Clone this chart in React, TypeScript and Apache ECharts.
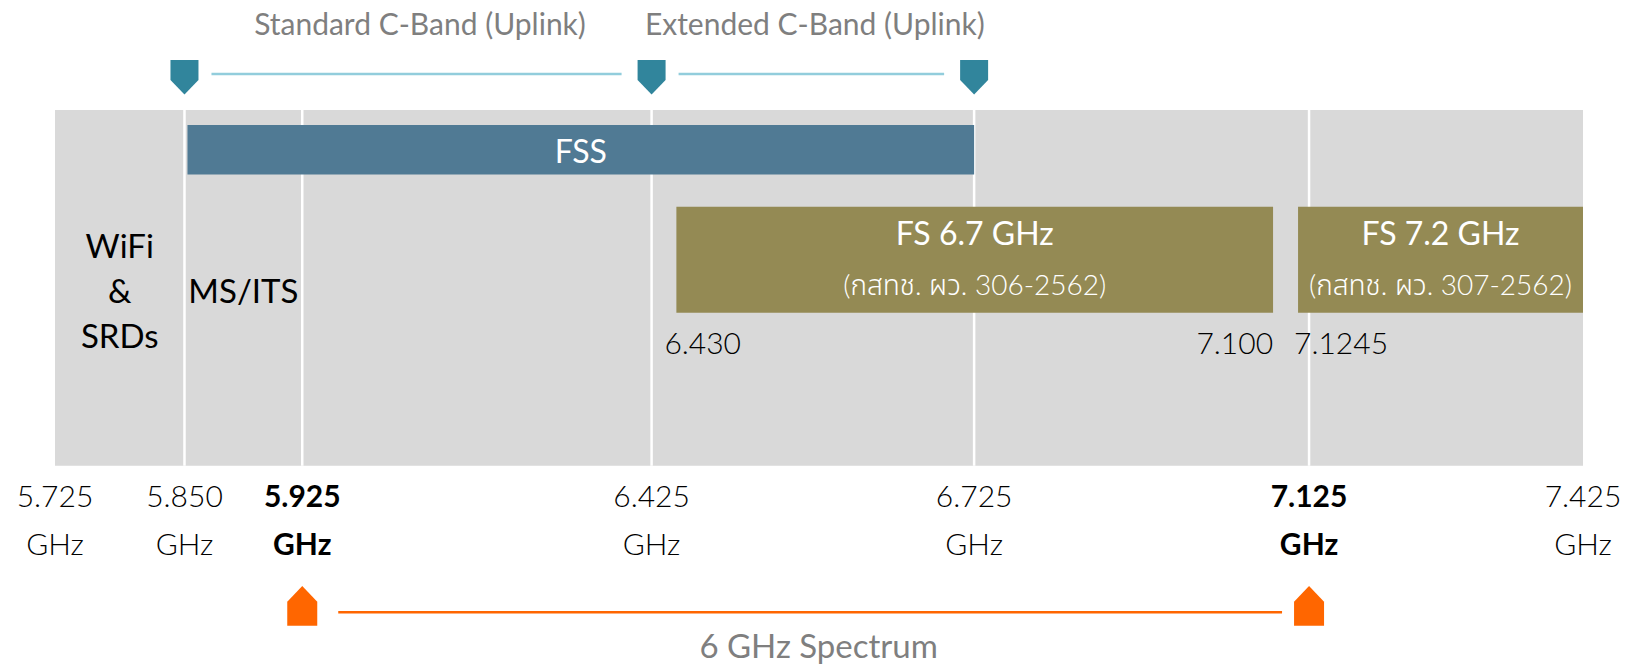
import React, { useEffect, useRef } from "react";
import * as echarts from "echarts";

// ---------------- data ----------------
const tickFreqs = [5.725, 5.85, 5.925, 6.425, 6.725, 7.125, 7.425];
const tickLabels = ["5.725", "5.850", "5.925", "6.425", "6.725", "7.125", "7.425"];
const tickUnit = "GHz";
const boldTickLabels = ["5.925", "7.125"];
const dividerFreqs = [5.85, 5.925, 6.425, 6.725, 7.125];

const regionNames = ["WiFi\n&\nSRDs", "MS/ITS"];
const regionStarts = [5.725, 5.85];
const regionEnds = [5.85, 5.925];

const fssNames = ["FSS"];
const fssStarts = [5.85];
const fssEnds = [6.725];

const fsNames = ["FS 6.7 GHz", "FS 7.2 GHz"];
const fsNotes = ["(กสทช. ผว. 306-2562)", "(กสทช. ผว. 307-2562)"];
const fsStarts = [6.43, 7.1245];
const fsEnds = [7.1, 7.425];
const fsStartLabels = ["6.430", "7.1245"];
const fsEndLabels = ["7.100", ""];

const uplinkNames = ["Standard C-Band (Uplink)", "Extended C-Band (Uplink)"];
const uplinkEdges = [5.85, 6.425, 6.725];

const spectrumNames = ["6 GHz Spectrum"];
const spectrumEdges = [5.925, 7.125];

// ---------------- layout: schematic (not-to-scale) frequency scale ----------------
// piecewise-linear knots: frequency -> drawing units along the band
const SCALE_FREQS = [5.725, 5.85, 5.925, 6.425, 6.43, 6.725, 7.1, 7.1245, 7.125, 7.425];
const SCALE_UNITS = [0, 129.5, 247.3, 596.7, 621.5, 919.3, 1218.3, 1243.3, 1254.3, 1528.3];

function toPos(f: number): number {
  for (let i = 0; i < SCALE_FREQS.length - 1; i++) {
    if (f <= SCALE_FREQS[i + 1] + 1e-9) {
      const t = (f - SCALE_FREQS[i]) / (SCALE_FREQS[i + 1] - SCALE_FREQS[i]);
      return SCALE_UNITS[i] + t * (SCALE_UNITS[i + 1] - SCALE_UNITS[i]);
    }
  }
  return SCALE_UNITS[SCALE_UNITS.length - 1];
}

const tickPositions = tickFreqs.map(toPos);

function nearestTick(v: number): number {
  let best = 0;
  for (let i = 1; i < tickPositions.length; i++) {
    if (Math.abs(tickPositions[i] - v) < Math.abs(tickPositions[best] - v)) best = i;
  }
  return best;
}

const FONT = "Lato, 'Noto Sans Thai', 'Noto Sans', sans-serif";
const GRAY_BG = "#D9D9D9";
const FSS_COLOR = "#507A94";
const FS_COLOR = "#948A54";
const TEAL = "#31859C";
const TEAL_LINE = "#92CDDC";
const ORANGE = "#FF6600";
const LABEL_GRAY = "#7F7F7F";

const FSS_LANE = [95.8, 81.9];
const FS_LANE = [72.8, 43.0];
const EDGE_LABEL_Y = 34.9;
const REGION_LABEL_Y = 49.5;

function buildOption() {
  return {
    animation: false,
    backgroundColor: "#ffffff",
    grid: {
      left: 55,
      right: 44,
      top: 110,
      bottom: 199.3,
      show: true,
      backgroundColor: GRAY_BG,
      borderWidth: 0,
      containLabel: false,
      outerBoundsMode: "none",
    },
    xAxis: {
      type: "value",
      min: 0,
      max: SCALE_UNITS[SCALE_UNITS.length - 1],
      axisLine: { show: false },
      axisTick: { show: false },
      splitLine: { show: false },
      axisLabel: {
        show: true,
        customValues: tickPositions,
        showMinLabel: true,
        showMaxLabel: true,
        hideOverlap: false,
        margin: 6,
        formatter: (v: number) => {
          const i = nearestTick(v);
          const k = boldTickLabels.includes(tickLabels[i]) ? "b" : "n";
          return `{${k}|${tickLabels[i]}}\n{${k}|${tickUnit}}`;
        },
        rich: {
          n: {
            fontSize: 30,
            fontFamily: FONT,
            fontWeight: 300,
            color: "#000",
            lineHeight: 47.5,
            align: "center",
          },
          b: {
            fontSize: 30,
            fontFamily: FONT,
            fontWeight: "bold",
            color: "#000",
            lineHeight: 47.5,
            align: "center",
          },
        },
      },
    },
    yAxis: { type: "value", min: 0, max: 100, show: false },
    series: [
      // white dividers
      {
        type: "custom",
        silent: true,
        z: 1,
        data: dividerFreqs.map((f) => [toPos(f), 0]),
        renderItem: (_p: any, api: any) => {
          const a = api.coord([api.value(0), 0]);
          const b = api.coord([api.value(0), 100]);
          return {
            type: "line",
            shape: { x1: a[0], y1: a[1], x2: b[0], y2: b[1] },
            style: { stroke: "#ffffff", lineWidth: 2.5 },
          };
        },
      },
      // region labels
      {
        type: "custom",
        silent: true,
        z: 2,
        data: regionNames.map((_n, i) => [toPos(regionStarts[i]), toPos(regionEnds[i])]),
        renderItem: (p: any, api: any) => {
          const a = api.coord([api.value(0), REGION_LABEL_Y]);
          const b = api.coord([api.value(1), REGION_LABEL_Y]);
          return {
            type: "text",
            style: {
              text: regionNames[p.dataIndex],
              x: (a[0] + b[0]) / 2,
              y: a[1],
              align: "center",
              verticalAlign: "middle",
              fontSize: 33,
              fontFamily: FONT,
              lineHeight: 45,
              fill: "#000",
            },
          };
        },
      },
      // FSS bar
      {
        type: "custom",
        silent: true,
        z: 3,
        data: fssNames.map((_n, i) => [toPos(fssStarts[i]), toPos(fssEnds[i])]),
        renderItem: (p: any, api: any) => {
          const a = api.coord([api.value(0), FSS_LANE[0]]);
          const b = api.coord([api.value(1), FSS_LANE[1]]);
          const x0 = a[0] + 3;
          return {
            type: "group",
            children: [
              {
                type: "rect",
                shape: { x: x0, y: a[1], width: b[0] - x0, height: b[1] - a[1] },
                style: { fill: FSS_COLOR },
              },
              {
                type: "text",
                style: {
                  text: fssNames[p.dataIndex],
                  x: (x0 + b[0]) / 2,
                  y: (a[1] + b[1]) / 2 + 1,
                  align: "center",
                  verticalAlign: "middle",
                  fontSize: 32,
                  fontFamily: FONT,
                  fill: "#ffffff",
                },
              },
            ],
          };
        },
      },
      // FS boxes
      {
        type: "custom",
        silent: true,
        z: 3,
        data: fsNames.map((_n, i) => [toPos(fsStarts[i]), toPos(fsEnds[i])]),
        renderItem: (p: any, api: any) => {
          const i = p.dataIndex;
          const a = api.coord([api.value(0), FS_LANE[0]]);
          const b = api.coord([api.value(1), FS_LANE[1]]);
          const ly = api.coord([api.value(0), EDGE_LABEL_Y])[1];
          const cx = (a[0] + b[0]) / 2;
          const children: any[] = [
            {
              type: "rect",
              shape: { x: a[0], y: a[1], width: b[0] - a[0], height: b[1] - a[1] },
              style: { fill: FS_COLOR },
            },
            {
              type: "text",
              style: {
                text: fsNames[i],
                x: cx,
                y: a[1] + 25.5,
                align: "center",
                verticalAlign: "middle",
                fontSize: 32,
                fontFamily: FONT,
                fill: "#ffffff",
              },
            },
            {
              type: "text",
              style: {
                text: fsNotes[i],
                x: cx,
                y: a[1] + 77,
                align: "center",
                verticalAlign: "middle",
                fontSize: 28,
                fontFamily: FONT,
                fontWeight: 300,
                fill: "#ffffff",
              },
            },
          ];
          if (fsStartLabels[i]) {
            children.push({
              type: "text",
              style: {
                text: fsStartLabels[i],
                x: a[0] - (i === 0 ? 12 : 4),
                y: ly,
                align: "left",
                verticalAlign: "middle",
                fontSize: 30,
                fontWeight: 300,
                fontFamily: FONT,
                fill: "#000",
              },
            });
          }
          if (fsEndLabels[i]) {
            children.push({
              type: "text",
              style: {
                text: fsEndLabels[i],
                x: b[0],
                y: ly,
                align: "right",
                verticalAlign: "middle",
                fontSize: 30,
                fontWeight: 300,
                fontFamily: FONT,
                fill: "#000",
              },
            });
          }
          return { type: "group", children };
        },
      },
      // top uplink markers
      {
        type: "custom",
        silent: true,
        z: 4,
        clip: false,
        data: uplinkEdges.map((f) => [toPos(f), 100]),
        renderItem: (_p: any, api: any) => {
          const c = api.coord([api.value(0), 100]);
          const x = c[0];
          const top = c[1];
          return {
            type: "polygon",
            shape: {
              points: [
                [x - 14, top - 50],
                [x + 14, top - 50],
                [x + 14, top - 30],
                [x, top - 15.5],
                [x - 14, top - 30],
              ],
            },
            style: { fill: TEAL },
          };
        },
      },
      // top uplink bands (lines + labels)
      {
        type: "custom",
        silent: true,
        z: 4,
        clip: false,
        data: uplinkNames.map((_n, i) => [toPos(uplinkEdges[i]), toPos(uplinkEdges[i + 1])]),
        renderItem: (p: any, api: any) => {
          const a = api.coord([api.value(0), 100]);
          const b = api.coord([api.value(1), 100]);
          const top = a[1];
          return {
            type: "group",
            children: [
              {
                type: "line",
                shape: { x1: a[0] + 27, y1: top - 36, x2: b[0] - 30, y2: top - 36 },
                style: { stroke: TEAL_LINE, lineWidth: 2.5 },
              },
              {
                type: "text",
                style: {
                  text: uplinkNames[p.dataIndex],
                  x: (a[0] + b[0]) / 2 + 2,
                  y: top - 87.5,
                  align: "center",
                  verticalAlign: "middle",
                  fontSize: 30,
                  fontFamily: FONT,
                  fill: LABEL_GRAY,
                },
              },
            ],
          };
        },
      },
      // bottom spectrum markers
      {
        type: "custom",
        silent: true,
        z: 4,
        clip: false,
        data: spectrumEdges.map((f) => [toPos(f), 0]),
        renderItem: (_p: any, api: any) => {
          const c = api.coord([api.value(0), 0]);
          const x = c[0];
          const bot = c[1];
          return {
            type: "polygon",
            shape: {
              points: [
                [x, bot + 120.3],
                [x + 15, bot + 136],
                [x + 15, bot + 160],
                [x - 15, bot + 160],
                [x - 15, bot + 136],
              ],
            },
            style: { fill: ORANGE },
          };
        },
      },
      // bottom spectrum band (line + label)
      {
        type: "custom",
        silent: true,
        z: 4,
        clip: false,
        data: spectrumNames.map((_n, i) => [toPos(spectrumEdges[i]), toPos(spectrumEdges[i + 1])]),
        renderItem: (p: any, api: any) => {
          const a = api.coord([api.value(0), 0]);
          const b = api.coord([api.value(1), 0]);
          const bot = a[1];
          return {
            type: "group",
            children: [
              {
                type: "line",
                shape: { x1: a[0] + 36, y1: bot + 146.6, x2: b[0] - 27, y2: bot + 146.6 },
                style: { stroke: ORANGE, lineWidth: 2.5 },
              },
              {
                type: "text",
                style: {
                  text: spectrumNames[p.dataIndex],
                  x: (a[0] + b[0]) / 2 + 13,
                  y: bot + 179,
                  align: "center",
                  verticalAlign: "middle",
                  fontSize: 33,
                  fontFamily: FONT,
                  fill: LABEL_GRAY,
                },
              },
            ],
          };
        },
      },
    ],
  };
}

export default function App() {
  const ref = useRef<HTMLDivElement | null>(null);
  useEffect(() => {
    if (!ref.current) return;
    const chart = echarts.init(ref.current, undefined, { renderer: "svg" });
    chart.setOption(buildOption() as any);
    return () => {
      chart.dispose();
    };
  }, []);
  return (
    <div
      ref={ref}
      style={{
        position: "fixed",
        left: 0,
        top: 0,
        width: 1627,
        height: 665,
        background: "#ffffff",
      }}
    />
  );
}
